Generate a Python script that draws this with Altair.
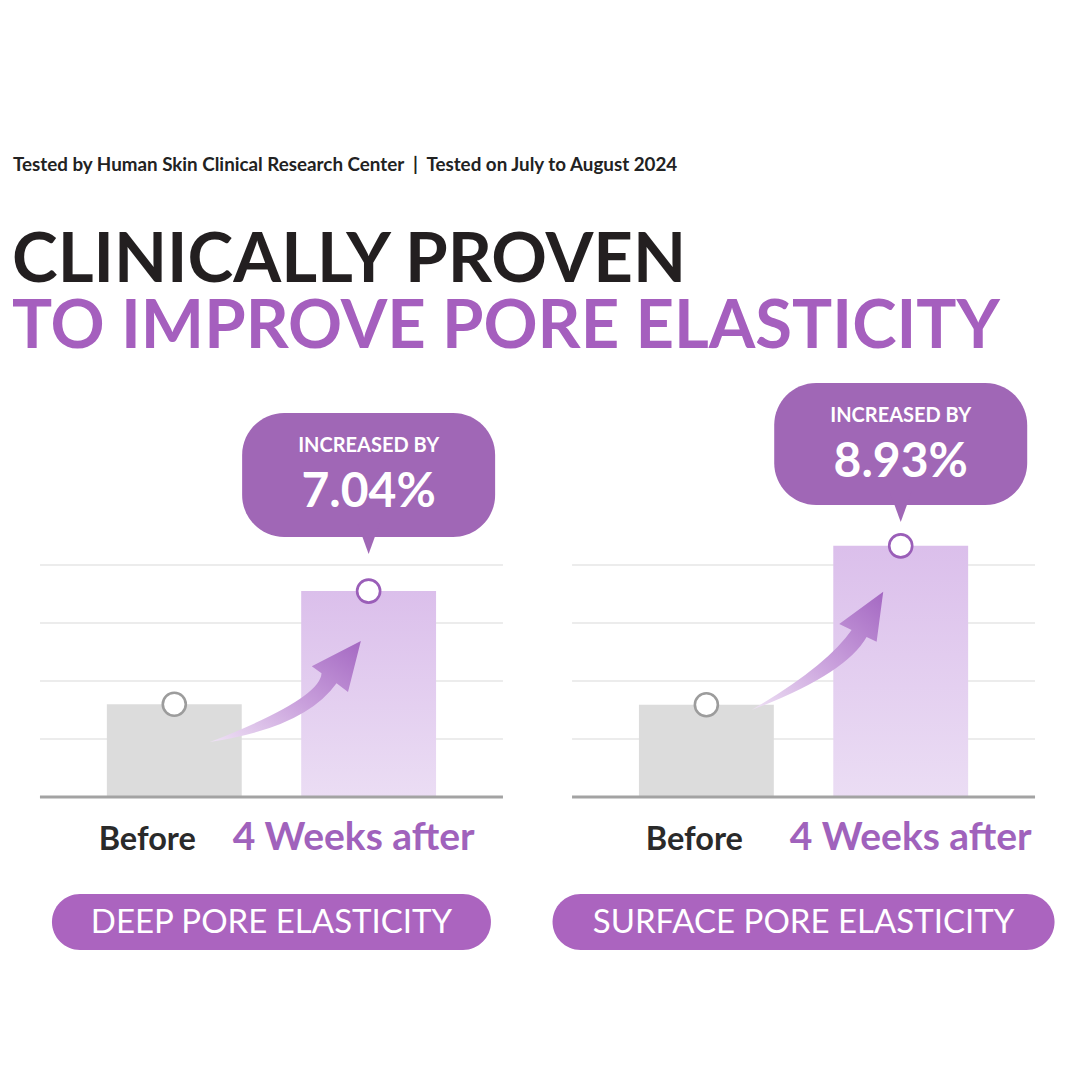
import altair as alt
import pandas as pd

# ---------------- data ----------------
panels = ["Deep", "Surface"]
conditions = ["Before", "After"]
before_values = [1.60, 1.59]
after_values = [3.55, 4.33]
increase_labels = ["7.04%", "8.93%"]
panel_titles = ["DEEP PORE ELASTICITY", "SURFACE PORE ELASTICITY"]
grid_values = [1, 2, 3, 4]
before_label = "Before"
after_label = "4 Weeks after"
subtitle = "Tested by Human Skin Clinical Research Center\u00a0\u00a0|\u00a0\u00a0Tested on July to August 2024"
title_1 = "CLINICALLY PROVEN"
title_2 = "TO IMPROVE PORE ELASTICITY"

bars = pd.DataFrame({
    "panel": panels + panels,
    "cond": ["Before", "Before", "After", "After"],
    "value": before_values + after_values,
})
grid = pd.DataFrame({
    "panel": [p for p in panels for _ in grid_values],
    "v": [g for _ in panels for g in grid_values],
})
base_df = pd.DataFrame({"panel": panels, "v": [0, 0]})

# ---------------- styles ----------------
PURPLE_TXT = "#a55fbe"
BUBBLE = "#a067b6"
PILL = "#ab64bf"
FONT = "Lato"

xscale = alt.Scale(domain=panels, range=[32, 1027], paddingInner=0.13, paddingOuter=0)
xoscale = alt.Scale(domain=conditions, paddingInner=0.306, paddingOuter=0.344)
yscale = alt.Scale(domain=[0, 5], range=[789, 499], nice=False, zero=False)

X = alt.X("panel:N", scale=xscale, axis=None)
XO = alt.XOffset("cond:N", scale=xoscale)

def one(**kw):
    return pd.DataFrame({k: [v] for k, v in kw.items()})

layers = []

# gridlines
layers.append(
    alt.Chart(grid).mark_tick(orient="horizontal", size=463, thickness=1.6,
                              color="#e6e6e6", opacity=1)
    .encode(x=X, y=alt.Y("v:Q", scale=yscale, axis=None))
)

# before bars
layers.append(
    alt.Chart(bars).transform_filter("datum.cond == 'Before'")
    .mark_bar(color="#dcdcdc")
    .encode(x=X, xOffset=XO, y=alt.Y("value:Q", scale=yscale, axis=None))
)
# after bars (gradient)
after_grad = alt.LinearGradient(
    gradient="linear",
    stops=[alt.GradientStop(color="#dbbfeb", offset=0),
           alt.GradientStop(color="#ebddf4", offset=1)],
    x1=0, x2=0, y1=0, y2=1,
)
layers.append(
    alt.Chart(bars).transform_filter("datum.cond == 'After'")
    .mark_bar(fill=after_grad)
    .encode(x=X, xOffset=XO, y=alt.Y("value:Q", scale=yscale, axis=None))
)

# baseline
layers.append(
    alt.Chart(base_df).mark_tick(orient="horizontal", size=463, thickness=3,
                                 color="#a3a3a3", opacity=1)
    .encode(x=X, y=alt.Y("v:Q", scale=yscale, axis=None))
)

# curved arrows
arrow_grad = alt.LinearGradient(
    gradient="linear",
    stops=[alt.GradientStop(color="#efe2f5", offset=0),
           alt.GradientStop(color="#c9a0dc", offset=0.5),
           alt.GradientStop(color="#a468c2", offset=1)],
    x1=0, y1=1, x2=1, y2=0,
)
arrow_left = ("M -1 0.67 Q 0.466 0.098 0.479 -0.241 L 0.35 -0.335 L 1 -0.67 "
              "L 0.83 0.005 L 0.678 -0.109 Q 0.26 0.48 -1 0.67 Z")
arrow_right = ("M -0.997 0.896 Q 0.14 0.23 0.518 -0.316 L 0.33 -0.407 L 0.997 -0.896 "
               "L 0.897 -0.139 L 0.745 -0.21 Q 0.426 0.357 -0.997 0.896 Z")
for p, shape, sz, yv in [("Deep", arrow_left, 22801, 683.5),
                         ("Surface", arrow_right, 17424, 642.8)]:
    layers.append(
        alt.Chart(one(panel=p)).mark_point(shape=shape, size=sz, filled=True,
                                           fill=arrow_grad, strokeWidth=0, opacity=1)
        .encode(x=alt.X("panel:N", scale=xscale, axis=None, bandPosition=0.53),
                y=alt.value(yv))
    )

# marker circles
layers.append(
    alt.Chart(bars).mark_point(shape="circle", size=530, filled=True, fill="white",
                               strokeWidth=2.6, opacity=1)
    .encode(x=X, xOffset=XO, y=alt.Y("value:Q", scale=yscale, axis=None),
            stroke=alt.Stroke("cond:N", scale=alt.Scale(domain=conditions,
                                                        range=["#9c9c9c", "#9a5eb8"]),
                              legend=None))
)

# speech bubbles
bubble_geom = {"Deep": (405, 529), "Surface": (375, 497)}
pointer = "M -1 -1.2 L 1 -1.2 L 0 1.55 Z"
for i, p in enumerate(panels):
    top, bot = bubble_geom[p]
    d = one(panel=p, cond="After", pct=increase_labels[i], head="INCREASED BY")
    layers.append(
        alt.Chart(d).mark_bar(width=253, cornerRadius=42, color=BUBBLE)
        .encode(x=X, xOffset=XO, y=alt.value(top), y2=alt.value(bot))
    )
    layers.append(
        alt.Chart(d).mark_point(shape=pointer, size=484, filled=True, color=BUBBLE,
                                strokeWidth=0, opacity=1)
        .encode(x=X, xOffset=XO, y=alt.value(bot))
    )
    layers.append(
        alt.Chart(d).mark_text(font=FONT, fontWeight="bold", fontSize=20, color="white",
                               baseline="middle", align="center")
        .encode(x=X, xOffset=XO, y=alt.value(top + 33), text="head:N")
    )
    layers.append(
        alt.Chart(d).mark_text(font=FONT, fontWeight="bold", fontSize=48, color="white",
                               baseline="middle", align="center")
        .encode(x=X, xOffset=XO, y=alt.value(top + 80), text="pct:N")
    )

# category labels
lab = pd.DataFrame({"panel": panels + panels,
                    "cond": ["Before", "Before", "After", "After"],
                    "label": [before_label] * 2 + [after_label] * 2})
label_dx = {("Deep", "Before"): -27, ("Deep", "After"): -15,
            ("Surface", "Before"): -12, ("Surface", "After"): 10}
for (p, c), dx in label_dx.items():
    is_before = c == "Before"
    layers.append(
        alt.Chart(lab).transform_filter(
            f"datum.panel == '{p}' && datum.cond == '{c}'")
        .mark_text(font=FONT, fontWeight="bold",
                   fontSize=32.5 if is_before else 39,
                   color="#2a2a2a" if is_before else "#a062bc",
                   baseline="alphabetic", align="center", dx=dx)
        .encode(x=X, xOffset=XO, y=alt.value(842), text="label:N")
    )

# pills
for i, (p, w) in enumerate(zip(panels, [439, 502])):
    d = one(panel=p, t=panel_titles[i])
    layers.append(
        alt.Chart(d).mark_bar(width=w, cornerRadius=28, color=PILL)
        .encode(x=X, y=alt.value(886), y2=alt.value(942))
    )
    layers.append(
        alt.Chart(d).mark_text(font=FONT, fontSize=33, color="white",
                               baseline="middle", align="center")
        .encode(x=X, y=alt.value(915), text="t:N")
    )

# header texts
layers.append(
    alt.Chart(one(t=subtitle)).mark_text(font=FONT, fontWeight="bold", fontSize=18.8,
                                         color="#222222", align="left",
                                         baseline="alphabetic")
    .encode(x=alt.value(5), y=alt.value(163), text="t:N")
)
layers.append(
    alt.Chart(one(t=title_1)).mark_text(font=FONT, fontWeight="bold", fontSize=69,
                                        color="#231f20", align="left",
                                        baseline="alphabetic")
    .encode(x=alt.value(4), y=alt.value(274), text="t:N")
)
layers.append(
    alt.Chart(one(t=title_2)).mark_text(font=FONT, fontWeight="bold", fontSize=67,
                                        color=PURPLE_TXT, align="left",
                                        baseline="alphabetic")
    .encode(x=alt.value(4), y=alt.value(340), text="t:N")
)

chart = alt.layer(*layers).properties(
    width=1064, height=1064,
    autosize=alt.AutoSizeParams(type="none"),
    padding=0,
    background="white",
).configure_view(stroke=None)

chart.save("out.html", embed_options={"renderer": "svg", "actions": False})
